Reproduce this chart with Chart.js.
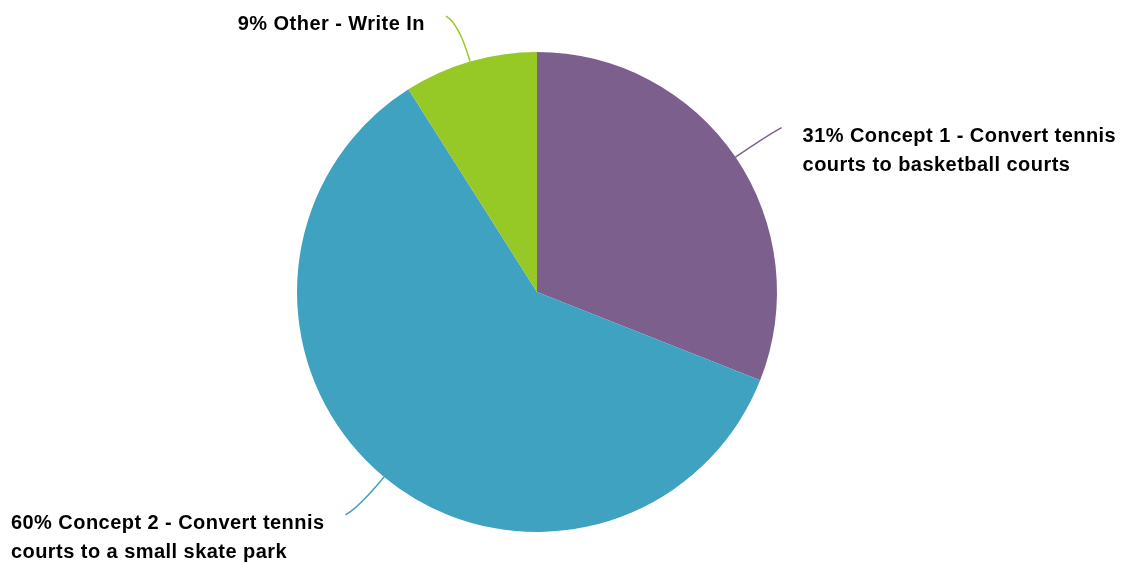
<!DOCTYPE html>
<html>
<head>
<meta charset="utf-8">
<script src="https://cdn.jsdelivr.net/npm/chart.js@4"></script>
<style>
    html, body { margin: 0; padding: 0; background: #fff; }
    #wrap { width: 1124px; height: 563px; position: relative; }
</style>
</head>
<body>
<div id="wrap"><canvas id="pie"></canvas></div>
<script>
// --- Data ---
const categories = ['Concept 1', 'Concept 2', 'Other'];
const labelLines = [
    ['Concept 1 - Convert tennis', 'courts to basketball courts'],
    ['Concept 2 - Convert tennis', 'courts to a small skate park'],
    ['Other - Write In']
];
const shares = [31, 60, 9];
const sliceColors = ['#7D5F8E', '#40A2C1', '#96C826'];

const FONT = 'bold 20px "Liberation Sans", Arial, sans-serif';
const LINE_H = 29;

// leader lines + labels drawn from each arc element's geometry
const calloutPlugin = {
    id: 'callouts',
    afterDraw(chart) {
        const ctx = chart.ctx;
        const meta = chart.getDatasetMeta(0);
        const total = shares.reduce((a, b) => a + b, 0);
        ctx.save();
        ctx.font = FONT;
        ctx.letterSpacing = '0.45px';
        ctx.textBaseline = 'alphabetic';
        meta.data.forEach((arc, i) => {
            const p = arc.getProps(['x', 'y', 'startAngle', 'endAngle', 'outerRadius'], true);
            const mid = (p.startAngle + p.endAngle) / 2;
            const cos = Math.cos(mid), sin = Math.sin(mid);
            const sx = Math.sign(cos) || 1, sy = Math.sign(sin) || 1;
            const start = { x: p.x + cos * p.outerRadius, y: p.y + sin * p.outerRadius };
            const ctrl = { x: p.x + cos * (p.outerRadius + 40), y: p.y + sin * (p.outerRadius + 40) };
            const end = { x: ctrl.x + sx * 13, y: ctrl.y + sy * 7 };

            ctx.strokeStyle = sliceColors[i];
            ctx.lineWidth = 1.5;
            ctx.beginPath();
            ctx.moveTo(start.x, start.y);
            ctx.quadraticCurveTo(ctrl.x, ctrl.y, end.x, end.y);
            ctx.stroke();

            const pct = Math.round(shares[i] / total * 100) + '% ';
            const lines = labelLines[i].slice();
            lines[0] = pct + lines[0];
            const blockW = Math.max(...lines.map(l => ctx.measureText(l).width));
            const left = sx > 0 ? end.x + 21 : end.x - 21 - blockW;
            ctx.fillStyle = '#000';
            ctx.textAlign = 'left';
            lines.forEach((l, k) => {
                ctx.fillText(l, left, end.y + 14 + k * LINE_H);
            });
        });
        ctx.restore();
    }
};

new Chart(document.getElementById('pie'), {
    type: 'pie',
    data: {
        labels: categories,
        datasets: [{
            data: shares,
            backgroundColor: sliceColors,
            borderWidth: 0
        }]
    },
    options: {
        responsive: true,
        maintainAspectRatio: false,
        animation: false,
        layout: { padding: { top: 52, bottom: 31, left: 0, right: 50 } },
        plugins: {
            legend: { display: false },
            tooltip: { enabled: false }
        }
    },
    plugins: [calloutPlugin]
});
</script>
</body>
</html>
